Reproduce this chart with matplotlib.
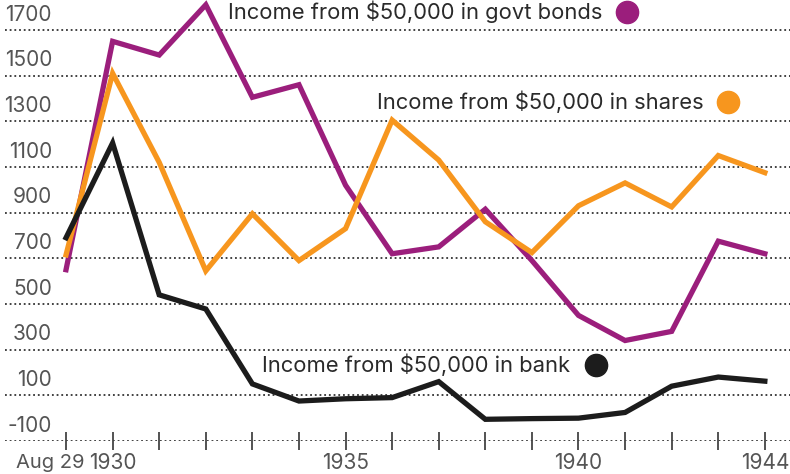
import matplotlib.pyplot as plt

# Annual income from $50,000, Aug 1929 - 1944
periods = ['Aug 29', '1930', '1931', '1932', '1933', '1934', '1935', '1936',
           '1937', '1938', '1939', '1940', '1941', '1942', '1943', '1944']
bonds = [650, 1650, 1590, 1810, 1405, 1460, 1020, 720, 750, 915, 690, 450, 340, 380, 775, 720]
shares = [715, 1510, 1120, 645, 895, 690, 830, 1305, 1130, 860, 725, 930, 1030, 925, 1150, 1075]
bank = [790, 1205, 540, 478, 150, 75, 85, 90, 160, -5, -2, 0, 25, 140, 180, 162]

yticks = [-100, 100, 300, 500, 700, 900, 1100, 1300, 1500, 1700]
label_idx = [0, 1, 6, 11, 15]

purple = '#9b1e7c'
orange = '#f7961e'
black = '#1c1c1c'
grey = '#555555'

plt.rcParams['font.family'] = ['Inter', 'DejaVu Sans']

fig = plt.figure(figsize=(7.9, 4.74), dpi=100)
ax = fig.add_axes([5 / 790, 33 / 474, 785 / 790, 441 / 474])

x = list(range(len(periods)))
ax.plot(x, bonds, color=purple, lw=3.8, solid_joinstyle='miter', zorder=3)
ax.plot(x, shares, color=orange, lw=3.8, solid_joinstyle='miter', zorder=4)
ax.plot(x, bank, color=black, lw=3.8, solid_joinstyle='miter', zorder=5)

ax.set_xlim(-1.31, 15.54)
ax.set_ylim(-100, 1831)

# dotted gridlines with labels sitting above them
for v in yticks:
    ax.axhline(v, color='#333333', lw=1.3, ls=(0, (1, 1.6)), zorder=1)
    ax.annotate(str(v), xy=(-0.3, v), xytext=(0, 11), textcoords='offset points',
                ha='right', va='center', fontsize=15, color=grey)

ax.set_xticks(x)
ax.set_xticklabels([])
ax.set_yticks([])
ax.tick_params(axis='x', direction='inout', length=13, width=1.3, color='#444444')
for s in ax.spines.values():
    s.set_visible(False)

for i in label_idx:
    if i == 0:
        ax.annotate(periods[i], xy=(i, -100), xytext=(13, -16), textcoords='offset points',
                    ha='right', va='center', fontsize=14.5, color=grey, annotation_clip=False)
    else:
        ax.annotate(periods[i], xy=(i, -100), xytext=(0, -16), textcoords='offset points',
                    ha='center', va='center', fontsize=15, color=grey, annotation_clip=False)

# series labels with coloured dots
labels = [('Income from $50,000 in govt bonds', 3.48, 1779, 12.04, purple),
          ('Income from $50,000 in shares', 6.67, 1385, 14.2, orange),
          ('Income from $50,000 in bank', 4.21, 233, 11.37, black)]
for text, tx, ty, cx, col in labels:
    ax.text(tx, ty, text, ha='left', va='center', fontsize=15.8, color='#2a2a2a', zorder=6)
    ax.plot([cx], [ty], 'o', color=col, ms=16, zorder=6, clip_on=False)

fig.savefig('out.png', dpi=100)
